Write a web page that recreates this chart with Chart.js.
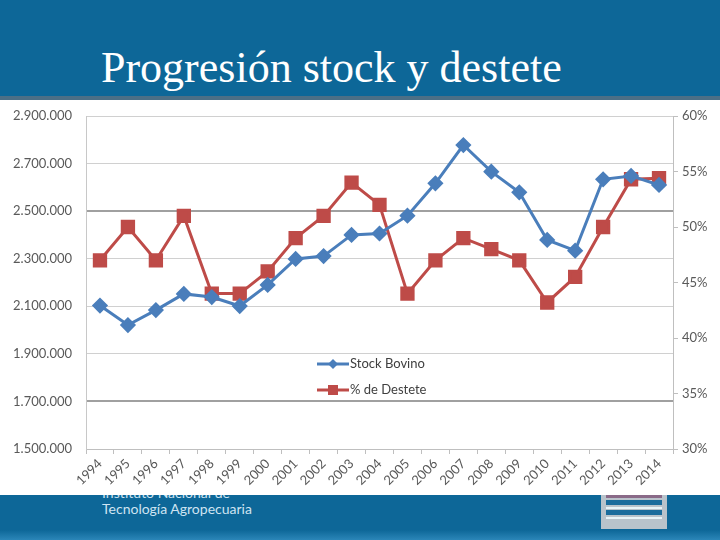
<!DOCTYPE html>
<html lang="es">
<head>
<meta charset="utf-8">
<title>Progresión stock y destete</title>
<script src="https://cdn.jsdelivr.net/npm/chart.js@4.4.1/dist/chart.umd.min.js"></script>
<style>
    body { margin: 0; width: 720px; height: 540px; overflow: hidden; background: #0d6798; position: relative; font-family: 'Lato', sans-serif; }
    #title { position: absolute; left: 101px; top: 44px; color: #fff; font-family: 'Liberation Serif', serif; font-size: 44px; line-height: 48px; white-space: nowrap; }
    #band { position: absolute; left: 0; top: 96px; width: 720px; height: 4px; background: #4c6f86; }
    #chartBox { position: absolute; left: 0; top: 100px; width: 720px; height: 395px; background: #fff; z-index: 2; }
    #footer1 { position: absolute; left: 102px; top: 484px; color: #cfe4f2; font-size: 14px; z-index: 1; }
    #footer2 { position: absolute; left: 102px; top: 500px; color: #cfe4f2; font-size: 14px; }
    #bottom { position: absolute; left: 0; top: 530px; width: 720px; height: 10px; background: linear-gradient(#0d6798, #2b86b8); }
    #logo { position: absolute; left: 601px; top: 495px; width: 66px; height: 34px; background: #b9c3cb; }
    #logo div { position: absolute; left: 5px; width: 56px; background: #1a6c9c; }
</style>
</head>
<body>
<div id="title">Progresión stock y destete</div>
<div id="band"></div>
<div id="footer1">Instituto Nacional de</div>
<div id="footer2">Tecnología Agropecuaria</div>
<div id="logo">
    <div style="top:0;height:3px;background:#8a6a88"></div>
    <div style="top:5px;height:5px"></div>
    <div style="top:12px;height:2px;background:#e8f4f8"></div>
    <div style="top:15px;height:5px"></div>
    <div style="top:22px;height:2px;background:#e8f4f8"></div>
</div>
<div id="bottom"></div>
<div id="chartBox"><canvas id="chart" width="720" height="395"></canvas></div>

<script>
// Data
const years = ['1994', '1995', '1996', '1997', '1998', '1999', '2000', '2001', '2002', '2003', '2004',
    '2005', '2006', '2007', '2008', '2009', '2010', '2011', '2012', '2013', '2014'];
const stockBovino = [2103000, 2021000, 2084000, 2152000, 2139000, 2101000, 2190000, 2299000, 2311000, 2400000, 2406000,
    2481000, 2617000, 2778000, 2666000, 2579000, 2379000, 2334000, 2634000, 2648000, 2610000];
const destete = [47, 50, 47, 51, 44, 44, 46, 49, 51, 54, 52,
    44, 47, 49, 48, 47, 43.2, 45.5, 50, 54.3, 54.4];
const seriesNames = ['Stock Bovino', '% de Destete'];
const blue = '#4a7ebb';
const red = '#be4b48';
const tickColor = '#595959';

function formatMiles(v) {
    return v.toString().replace(/\B(?=(\d{3})+(?!\d))/g, '.');
}

// legend drawn inside the plot, line + marker like the original
const innerLegend = {
    id: 'innerLegend',
    afterDraw(chart) {
        const ctx = chart.ctx;
        const x = chart.chartArea.left + 231;
        const rows = [chart.chartArea.top + 248, chart.chartArea.top + 274];
        ctx.save();
        chart.data.datasets.forEach((ds, i) => {
            const y = rows[i];
            ctx.strokeStyle = ds.borderColor;
            ctx.lineWidth = 3;
            ctx.beginPath();
            ctx.moveTo(x, y);
            ctx.lineTo(x + 32, y);
            ctx.stroke();
            ctx.fillStyle = ds.backgroundColor;
            if (ds.pointStyle === 'rect') {
                ctx.fillRect(x + 11, y - 5, 10, 10);
            } else {
                ctx.beginPath();
                ctx.moveTo(x + 16, y - 5);
                ctx.lineTo(x + 21, y);
                ctx.lineTo(x + 16, y + 5);
                ctx.lineTo(x + 11, y);
                ctx.closePath();
                ctx.fill();
            }
            ctx.fillStyle = '#404040';
            ctx.font = '13px Lato';
            ctx.textBaseline = 'middle';
            ctx.fillText(ds.label, x + 33, y);
        });
        ctx.restore();
    }
};

const ctx = document.getElementById('chart').getContext('2d');
new Chart(ctx, {
    type: 'line',
    data: {
        labels: years,
        datasets: [{
            label: seriesNames[0],
            data: stockBovino,
            yAxisID: 'y',
            borderColor: blue,
            backgroundColor: blue,
            borderWidth: 3,
            pointStyle: 'rectRot',
            pointRadius: 6,
            pointHoverRadius: 6,
            tension: 0
        }, {
            label: seriesNames[1],
            data: destete,
            yAxisID: 'y1',
            borderColor: red,
            backgroundColor: red,
            borderWidth: 3,
            pointStyle: 'rect',
            pointRadius: 8,
            pointHoverRadius: 8,
            tension: 0
        }]
    },
    options: {
        responsive: false,
        animation: false,
        layout: { autoPadding: false, padding: { top: 16, left: 0, right: 0, bottom: 0 } },
        plugins: {
            legend: { display: false },
            tooltip: { enabled: false }
        },
        scales: {
            x: {
                offset: true,
                grid: { offset: true, drawOnChartArea: false, drawTicks: true, tickLength: 5, color: '#bfbfbf' },
                border: { color: '#bfbfbf' },
                ticks: { color: tickColor, font: { family: 'Lato', size: 13 }, minRotation: 45, maxRotation: 45, padding: 2, autoSkip: false },
                afterFit(scale) { scale.height = 46; }
            },
            y: {
                position: 'left',
                min: 1500000,
                max: 2900000,
                ticks: { stepSize: 200000, color: tickColor, font: { family: 'Lato', size: 13 }, padding: 3, callback: v => formatMiles(v) },
                grid: {
                    drawTicks: true,
                    tickLength: 11,
                    tickColor: 'rgba(0,0,0,0)',
                    color: c => (c.tick && (c.tick.value === 2500000 || c.tick.value === 1700000)) ? '#a0a0a0' : '#d0d0d0',
                    lineWidth: c => (c.tick && (c.tick.value === 2500000 || c.tick.value === 1700000)) ? 2 : 1
                },
                border: { color: '#c8c8c8' },
                afterFit(scale) { scale.width = 86; }
            },
            y1: {
                position: 'right',
                min: 30,
                max: 60,
                ticks: { stepSize: 5, color: tickColor, font: { family: 'Lato', size: 13 }, padding: 4, callback: v => v + '%' },
                grid: { drawOnChartArea: false, drawTicks: true, tickLength: 5, color: '#bfbfbf' },
                border: { color: '#bfbfbf' },
                afterFit(scale) { scale.width = 47; }
            }
        }
    },
    plugins: [innerLegend]
});
</script>
</body>
</html>
